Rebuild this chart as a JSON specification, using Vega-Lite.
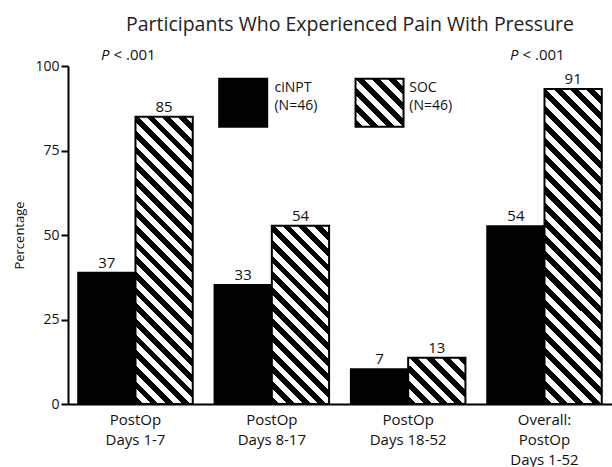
{
  "$schema": "https://vega.github.io/schema/vega-lite/v6.json",
  "width": 544,
  "height": 338,
  "autosize": "none",
  "padding": {"left": 68, "top": 66, "right": 0, "bottom": 63},
  "title": {"text": "Participants Who Experienced Pain With Pressure", "font": "Open Sans", "fontSize": 19.5, "fontWeight": "normal", "color": "#222", "anchor": "middle", "offset": 12, "dx": 10},
  "datasets": {
    "bars": [
      {"group": "PostOp|Days 1-7", "series": "ciNPT (N=46)", "pct": 38.8, "label": "37"},
      {"group": "PostOp|Days 1-7", "series": "SOC (N=46)", "pct": 85.0, "label": "85"},
      {"group": "PostOp|Days 8-17", "series": "ciNPT (N=46)", "pct": 35.2, "label": "33"},
      {"group": "PostOp|Days 8-17", "series": "SOC (N=46)", "pct": 52.7, "label": "54"},
      {"group": "PostOp|Days 18-52", "series": "ciNPT (N=46)", "pct": 10.3, "label": "7"},
      {"group": "PostOp|Days 18-52", "series": "SOC (N=46)", "pct": 13.7, "label": "13"},
      {"group": "Overall:|PostOp|Days 1-52", "series": "ciNPT (N=46)", "pct": 52.6, "label": "54"},
      {"group": "Overall:|PostOp|Days 1-52", "series": "SOC (N=46)", "pct": 93.2, "label": "91"}
    ],
    "pvals": [
      {"group": "PostOp|Days 1-7", "p": "P", "rest": "< .001"},
      {"group": "Overall:|PostOp|Days 1-52", "p": "P", "rest": "< .001"}
    ]
  },
  "layer": [
    {
      "data": {"name": "bars"},
      "mark": {"type": "bar", "stroke": "#000", "strokeWidth": 2},
      "encoding": {
        "x": {
          "field": "group", "type": "nominal",
          "scale": {"domain": ["PostOp|Days 1-7", "PostOp|Days 8-17", "PostOp|Days 18-52", "Overall:|PostOp|Days 1-52"], "paddingInner": 0.16, "paddingOuter": 0.075},
          "axis": {"title": null, "labelExpr": "split(datum.label, '|')", "labelAngle": 0, "ticks": false, "domainColor": "#000", "domainWidth": 2, "labelFontSize": 15, "labelLineHeight": 20, "labelPadding": 8, "labelBaseline": "top", "labelColor": "#111"}
        },
        "xOffset": {"field": "series", "type": "nominal", "scale": {"domain": ["ciNPT (N=46)", "SOC (N=46)"]}},
        "y": {
          "field": "pct", "type": "quantitative",
          "scale": {"domain": [0, 100], "nice": false},
          "axis": {"title": "Percentage", "values": [0, 25, 50, 75, 100], "grid": false, "domainColor": "#000", "domainWidth": 2, "tickColor": "#000", "tickWidth": 2, "tickSize": 7, "labelFontSize": 14, "labelPadding": 2, "labelColor": "#111", "titleFontSize": 13, "titleFontWeight": "normal", "titleColor": "#111", "titlePadding": 8}
        },
        "fill": {
          "condition": [
            {"test": "datum.series === 'SOC (N=46)' && datum.group === 'PostOp|Days 1-7'", "value": {"gradient": "linear", "x1": 0, "y1": 1, "x2": 0.2299, "y2": -0.1535, "stops": [
              {"offset":0,"color":"#000"},{"offset":0.0227,"color":"#000"},{"offset":0.0227,"color":"#fff"},{"offset":0.0455,"color":"#fff"},
              {"offset":0.0455,"color":"#000"},{"offset":0.0682,"color":"#000"},{"offset":0.0682,"color":"#fff"},{"offset":0.0909,"color":"#fff"},
              {"offset":0.0909,"color":"#000"},{"offset":0.1136,"color":"#000"},{"offset":0.1136,"color":"#fff"},{"offset":0.1364,"color":"#fff"},
              {"offset":0.1364,"color":"#000"},{"offset":0.1591,"color":"#000"},{"offset":0.1591,"color":"#fff"},{"offset":0.1818,"color":"#fff"},
              {"offset":0.1818,"color":"#000"},{"offset":0.2045,"color":"#000"},{"offset":0.2045,"color":"#fff"},{"offset":0.2273,"color":"#fff"},
              {"offset":0.2273,"color":"#000"},{"offset":0.25,"color":"#000"},{"offset":0.25,"color":"#fff"},{"offset":0.2727,"color":"#fff"},
              {"offset":0.2727,"color":"#000"},{"offset":0.2955,"color":"#000"},{"offset":0.2955,"color":"#fff"},{"offset":0.3182,"color":"#fff"},
              {"offset":0.3182,"color":"#000"},{"offset":0.3409,"color":"#000"},{"offset":0.3409,"color":"#fff"},{"offset":0.3636,"color":"#fff"},
              {"offset":0.3636,"color":"#000"},{"offset":0.3864,"color":"#000"},{"offset":0.3864,"color":"#fff"},{"offset":0.4091,"color":"#fff"},
              {"offset":0.4091,"color":"#000"},{"offset":0.4318,"color":"#000"},{"offset":0.4318,"color":"#fff"},{"offset":0.4545,"color":"#fff"},
              {"offset":0.4545,"color":"#000"},{"offset":0.4773,"color":"#000"},{"offset":0.4773,"color":"#fff"},{"offset":0.5,"color":"#fff"},
              {"offset":0.5,"color":"#000"},{"offset":0.5227,"color":"#000"},{"offset":0.5227,"color":"#fff"},{"offset":0.5455,"color":"#fff"},
              {"offset":0.5455,"color":"#000"},{"offset":0.5682,"color":"#000"},{"offset":0.5682,"color":"#fff"},{"offset":0.5909,"color":"#fff"},
              {"offset":0.5909,"color":"#000"},{"offset":0.6136,"color":"#000"},{"offset":0.6136,"color":"#fff"},{"offset":0.6364,"color":"#fff"},
              {"offset":0.6364,"color":"#000"},{"offset":0.6591,"color":"#000"},{"offset":0.6591,"color":"#fff"},{"offset":0.6818,"color":"#fff"},
              {"offset":0.6818,"color":"#000"},{"offset":0.7045,"color":"#000"},{"offset":0.7045,"color":"#fff"},{"offset":0.7273,"color":"#fff"},
              {"offset":0.7273,"color":"#000"},{"offset":0.75,"color":"#000"},{"offset":0.75,"color":"#fff"},{"offset":0.7727,"color":"#fff"},
              {"offset":0.7727,"color":"#000"},{"offset":0.7955,"color":"#000"},{"offset":0.7955,"color":"#fff"},{"offset":0.8182,"color":"#fff"},
              {"offset":0.8182,"color":"#000"},{"offset":0.8409,"color":"#000"},{"offset":0.8409,"color":"#fff"},{"offset":0.8636,"color":"#fff"},
              {"offset":0.8636,"color":"#000"},{"offset":0.8864,"color":"#000"},{"offset":0.8864,"color":"#fff"},{"offset":0.9091,"color":"#fff"},
              {"offset":0.9091,"color":"#000"},{"offset":0.9318,"color":"#000"},{"offset":0.9318,"color":"#fff"},{"offset":0.9545,"color":"#fff"},
              {"offset":0.9545,"color":"#000"},{"offset":0.9773,"color":"#000"},{"offset":0.9773,"color":"#fff"},{"offset":1,"color":"#fff"}
            ]}},
            {"test": "datum.series === 'SOC (N=46)' && datum.group === 'PostOp|Days 8-17'", "value": {"gradient": "linear", "x1": 0, "y1": 1, "x2": 0.385, "y2": -0.1977, "stops": [
              {"offset":0,"color":"#000"},{"offset":0.0333,"color":"#000"},{"offset":0.0333,"color":"#fff"},{"offset":0.0667,"color":"#fff"},
              {"offset":0.0667,"color":"#000"},{"offset":0.1,"color":"#000"},{"offset":0.1,"color":"#fff"},{"offset":0.1333,"color":"#fff"},
              {"offset":0.1333,"color":"#000"},{"offset":0.1667,"color":"#000"},{"offset":0.1667,"color":"#fff"},{"offset":0.2,"color":"#fff"},
              {"offset":0.2,"color":"#000"},{"offset":0.2333,"color":"#000"},{"offset":0.2333,"color":"#fff"},{"offset":0.2667,"color":"#fff"},
              {"offset":0.2667,"color":"#000"},{"offset":0.3,"color":"#000"},{"offset":0.3,"color":"#fff"},{"offset":0.3333,"color":"#fff"},
              {"offset":0.3333,"color":"#000"},{"offset":0.3667,"color":"#000"},{"offset":0.3667,"color":"#fff"},{"offset":0.4,"color":"#fff"},
              {"offset":0.4,"color":"#000"},{"offset":0.4333,"color":"#000"},{"offset":0.4333,"color":"#fff"},{"offset":0.4667,"color":"#fff"},
              {"offset":0.4667,"color":"#000"},{"offset":0.5,"color":"#000"},{"offset":0.5,"color":"#fff"},{"offset":0.5333,"color":"#fff"},
              {"offset":0.5333,"color":"#000"},{"offset":0.5667,"color":"#000"},{"offset":0.5667,"color":"#fff"},{"offset":0.6,"color":"#fff"},
              {"offset":0.6,"color":"#000"},{"offset":0.6333,"color":"#000"},{"offset":0.6333,"color":"#fff"},{"offset":0.6667,"color":"#fff"},
              {"offset":0.6667,"color":"#000"},{"offset":0.7,"color":"#000"},{"offset":0.7,"color":"#fff"},{"offset":0.7333,"color":"#fff"},
              {"offset":0.7333,"color":"#000"},{"offset":0.7667,"color":"#000"},{"offset":0.7667,"color":"#fff"},{"offset":0.8,"color":"#fff"},
              {"offset":0.8,"color":"#000"},{"offset":0.8333,"color":"#000"},{"offset":0.8333,"color":"#fff"},{"offset":0.8667,"color":"#fff"},
              {"offset":0.8667,"color":"#000"},{"offset":0.9,"color":"#000"},{"offset":0.9,"color":"#fff"},{"offset":0.9333,"color":"#fff"},
              {"offset":0.9333,"color":"#000"},{"offset":0.9667,"color":"#000"},{"offset":0.9667,"color":"#fff"},{"offset":1,"color":"#fff"}
            ]}},
            {"test": "datum.series === 'SOC (N=46)' && datum.group === 'PostOp|Days 18-52'", "value": {"gradient": "linear", "x1": 0, "y1": 1, "x2": 1.0935, "y2": 0.1156, "stops": [
              {"offset":0,"color":"#000"},{"offset":0.0769,"color":"#000"},{"offset":0.0769,"color":"#fff"},{"offset":0.1538,"color":"#fff"},
              {"offset":0.1538,"color":"#000"},{"offset":0.2308,"color":"#000"},{"offset":0.2308,"color":"#fff"},{"offset":0.3077,"color":"#fff"},
              {"offset":0.3077,"color":"#000"},{"offset":0.3846,"color":"#000"},{"offset":0.3846,"color":"#fff"},{"offset":0.4615,"color":"#fff"},
              {"offset":0.4615,"color":"#000"},{"offset":0.5385,"color":"#000"},{"offset":0.5385,"color":"#fff"},{"offset":0.6154,"color":"#fff"},
              {"offset":0.6154,"color":"#000"},{"offset":0.6923,"color":"#000"},{"offset":0.6923,"color":"#fff"},{"offset":0.7692,"color":"#fff"},
              {"offset":0.7692,"color":"#000"},{"offset":0.8462,"color":"#000"},{"offset":0.8462,"color":"#fff"},{"offset":0.9231,"color":"#fff"},
              {"offset":0.9231,"color":"#000"},{"offset":1,"color":"#000"}
            ]}},
            {"test": "datum.series === 'SOC (N=46)' && datum.group === 'Overall:|PostOp|Days 1-52'", "value": {"gradient": "linear", "x1": 0, "y1": 1, "x2": 0.2079, "y2": -0.144, "stops": [
              {"offset":0,"color":"#000"},{"offset":0.0217,"color":"#000"},{"offset":0.0217,"color":"#fff"},{"offset":0.0435,"color":"#fff"},
              {"offset":0.0435,"color":"#000"},{"offset":0.0652,"color":"#000"},{"offset":0.0652,"color":"#fff"},{"offset":0.087,"color":"#fff"},
              {"offset":0.087,"color":"#000"},{"offset":0.1087,"color":"#000"},{"offset":0.1087,"color":"#fff"},{"offset":0.1304,"color":"#fff"},
              {"offset":0.1304,"color":"#000"},{"offset":0.1522,"color":"#000"},{"offset":0.1522,"color":"#fff"},{"offset":0.1739,"color":"#fff"},
              {"offset":0.1739,"color":"#000"},{"offset":0.1957,"color":"#000"},{"offset":0.1957,"color":"#fff"},{"offset":0.2174,"color":"#fff"},
              {"offset":0.2174,"color":"#000"},{"offset":0.2391,"color":"#000"},{"offset":0.2391,"color":"#fff"},{"offset":0.2609,"color":"#fff"},
              {"offset":0.2609,"color":"#000"},{"offset":0.2826,"color":"#000"},{"offset":0.2826,"color":"#fff"},{"offset":0.3043,"color":"#fff"},
              {"offset":0.3043,"color":"#000"},{"offset":0.3261,"color":"#000"},{"offset":0.3261,"color":"#fff"},{"offset":0.3478,"color":"#fff"},
              {"offset":0.3478,"color":"#000"},{"offset":0.3696,"color":"#000"},{"offset":0.3696,"color":"#fff"},{"offset":0.3913,"color":"#fff"},
              {"offset":0.3913,"color":"#000"},{"offset":0.413,"color":"#000"},{"offset":0.413,"color":"#fff"},{"offset":0.4348,"color":"#fff"},
              {"offset":0.4348,"color":"#000"},{"offset":0.4565,"color":"#000"},{"offset":0.4565,"color":"#fff"},{"offset":0.4783,"color":"#fff"},
              {"offset":0.4783,"color":"#000"},{"offset":0.5,"color":"#000"},{"offset":0.5,"color":"#fff"},{"offset":0.5217,"color":"#fff"},
              {"offset":0.5217,"color":"#000"},{"offset":0.5435,"color":"#000"},{"offset":0.5435,"color":"#fff"},{"offset":0.5652,"color":"#fff"},
              {"offset":0.5652,"color":"#000"},{"offset":0.587,"color":"#000"},{"offset":0.587,"color":"#fff"},{"offset":0.6087,"color":"#fff"},
              {"offset":0.6087,"color":"#000"},{"offset":0.6304,"color":"#000"},{"offset":0.6304,"color":"#fff"},{"offset":0.6522,"color":"#fff"},
              {"offset":0.6522,"color":"#000"},{"offset":0.6739,"color":"#000"},{"offset":0.6739,"color":"#fff"},{"offset":0.6957,"color":"#fff"},
              {"offset":0.6957,"color":"#000"},{"offset":0.7174,"color":"#000"},{"offset":0.7174,"color":"#fff"},{"offset":0.7391,"color":"#fff"},
              {"offset":0.7391,"color":"#000"},{"offset":0.7609,"color":"#000"},{"offset":0.7609,"color":"#fff"},{"offset":0.7826,"color":"#fff"},
              {"offset":0.7826,"color":"#000"},{"offset":0.8043,"color":"#000"},{"offset":0.8043,"color":"#fff"},{"offset":0.8261,"color":"#fff"},
              {"offset":0.8261,"color":"#000"},{"offset":0.8478,"color":"#000"},{"offset":0.8478,"color":"#fff"},{"offset":0.8696,"color":"#fff"},
              {"offset":0.8696,"color":"#000"},{"offset":0.8913,"color":"#000"},{"offset":0.8913,"color":"#fff"},{"offset":0.913,"color":"#fff"},
              {"offset":0.913,"color":"#000"},{"offset":0.9348,"color":"#000"},{"offset":0.9348,"color":"#fff"},{"offset":0.9565,"color":"#fff"},
              {"offset":0.9565,"color":"#000"},{"offset":0.9783,"color":"#000"},{"offset":0.9783,"color":"#fff"},{"offset":1,"color":"#fff"}
            ]}}
          ],
          "value": "#000"
        }
      }
    },
    {
      "data": {"name": "bars"},
      "mark": {"type": "text", "font": "Open Sans", "fontSize": 15, "baseline": "alphabetic", "dy": -5, "color": "#111"},
      "encoding": {
        "x": {"field": "group", "type": "nominal"},
        "xOffset": {"field": "series", "type": "nominal"},
        "y": {"field": "pct", "type": "quantitative"},
        "text": {"field": "label"}
      }
    },
    {
      "data": {"name": "pvals"},
      "mark": {"type": "text", "font": "Open Sans", "fontSize": 15, "fontStyle": "italic", "align": "right", "baseline": "middle", "dx": -26, "color": "#111"},
      "encoding": {
        "x": {"field": "group", "type": "nominal"},
        "y": {"datum": 103.3, "type": "quantitative"},
        "text": {"field": "p"}
      }
    },
    {
      "data": {"name": "pvals"},
      "mark": {"type": "text", "font": "Open Sans", "fontSize": 15, "align": "left", "baseline": "middle", "dx": -22, "color": "#111"},
      "encoding": {
        "x": {"field": "group", "type": "nominal"},
        "y": {"datum": 103.3, "type": "quantitative"},
        "text": {"field": "rest"}
      }
    },
    {
      "data": {"values": [{"key": "ciNPT"}]},
      "mark": {"type": "point", "shape": "square", "size": 2304, "filled": true, "fill": "#000", "stroke": "#000", "strokeWidth": 2, "opacity": 1},
      "encoding": {
        "x": {"datum": "PostOp|Days 8-17", "type": "nominal"},
        "xOffset": {"datum": "ciNPT (N=46)", "type": "nominal"},
        "y": {"datum": 89.1, "type": "quantitative"}
      }
    },
    {
      "data": {"values": [{"key": "SOC"}]},
      "mark": {"type": "point", "shape": "square", "size": 2304, "filled": true, "stroke": "#000", "strokeWidth": 2, "opacity": 1,
        "fill": {"gradient": "linear", "x1": 0, "y1": 1, "x2": 1, "y2": 0, "stops": [
          {"offset":0,"color":"#000"},{"offset":0.0833,"color":"#000"},{"offset":0.0833,"color":"#fff"},{"offset":0.1667,"color":"#fff"},
          {"offset":0.1667,"color":"#000"},{"offset":0.25,"color":"#000"},{"offset":0.25,"color":"#fff"},{"offset":0.3333,"color":"#fff"},
          {"offset":0.3333,"color":"#000"},{"offset":0.4167,"color":"#000"},{"offset":0.4167,"color":"#fff"},{"offset":0.5,"color":"#fff"},
          {"offset":0.5,"color":"#000"},{"offset":0.5833,"color":"#000"},{"offset":0.5833,"color":"#fff"},{"offset":0.6667,"color":"#fff"},
          {"offset":0.6667,"color":"#000"},{"offset":0.75,"color":"#000"},{"offset":0.75,"color":"#fff"},{"offset":0.8333,"color":"#fff"},
          {"offset":0.8333,"color":"#000"},{"offset":0.9167,"color":"#000"},{"offset":0.9167,"color":"#fff"},{"offset":1,"color":"#fff"}
        ]}},
      "encoding": {
        "x": {"datum": "PostOp|Days 18-52", "type": "nominal"},
        "xOffset": {"datum": "ciNPT (N=46)", "type": "nominal"},
        "y": {"datum": 89.1, "type": "quantitative"}
      }
    },
    {
      "data": {"values": [{"key": "ciNPT\n(N=46)"}]},
      "mark": {"type": "text", "font": "Open Sans", "fontSize": 14, "align": "left", "baseline": "top", "lineBreak": "\n", "lineHeight": 18, "dx": -26, "color": "#111"},
      "encoding": {
        "x": {"datum": "PostOp|Days 8-17", "type": "nominal"},
        "xOffset": {"datum": "SOC (N=46)", "type": "nominal"},
        "y": {"datum": 95.6, "type": "quantitative"},
        "text": {"field": "key"}
      }
    },
    {
      "data": {"values": [{"key": "SOC\n(N=46)"}]},
      "mark": {"type": "text", "font": "Open Sans", "fontSize": 14, "align": "left", "baseline": "top", "lineBreak": "\n", "lineHeight": 18, "dx": -27.5, "color": "#111"},
      "encoding": {
        "x": {"datum": "PostOp|Days 18-52", "type": "nominal"},
        "xOffset": {"datum": "SOC (N=46)", "type": "nominal"},
        "y": {"datum": 95.6, "type": "quantitative"},
        "text": {"field": "key"}
      }
    }
  ],
  "config": {"font": "Open Sans", "view": {"stroke": null}, "background": "#ffffff"}
}
